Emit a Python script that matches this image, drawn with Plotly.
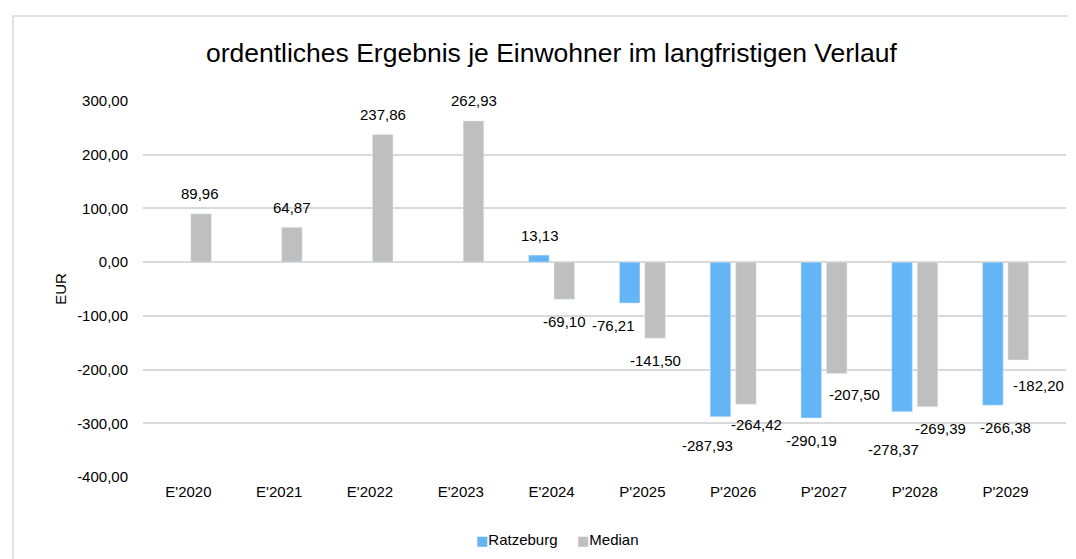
import plotly.graph_objects as go

categories = ["E'2020", "E'2021", "E'2022", "E'2023", "E'2024",
              "P'2025", "P'2026", "P'2027", "P'2028", "P'2029"]
ratzeburg = [None, None, None, None, 13.13, -76.21, -287.93, -290.19, -278.37, -266.38]
median = [89.96, 64.87, 237.86, 262.93, -69.10, -141.50, -264.42, -207.50, -269.39, -182.20]
y_ticks = [300, 200, 100, 0, -100, -200, -300, -400]
series_names = ["Ratzeburg", "Median"]

# label placement tweaks (pixels): horizontal shift, distance from bar end
r_dx = [0, 0, 0, 0, 1, -16, -13, 0, -8, 13]
r_dd = [20, 20, 20, 20, 20, 22, 29, 22, 38, 22]
m_dx = [-1, 0, 0, 0, 0, 0, 10, 18, 13, 20]
m_dd = [20, 20, 20, 20, 22, 22, 20, 21, 22, 25]

BLUE = "#64B5F6"
GRAY = "#BFBFBF"
FONT = "Liberation Sans, Arial, sans-serif"


def de(v):
    return f"{v:.2f}".replace(".", ",")


fig = go.Figure()
fig.add_trace(go.Bar(name=series_names[0], x=categories, y=ratzeburg,
                     marker_color=BLUE, showlegend=False))
fig.add_trace(go.Bar(name=series_names[1], x=categories, y=median,
                     marker_color=GRAY, showlegend=False))

W, H = 1076, 559
ML, MR, MT, MB = 135, 18, 93, 90
plot_w = W - ML - MR
plot_h = H - MT - MB
bargap, groupgap = 0.44, 0.19
slot = plot_w / len(categories) * (1 - bargap) / 2
offset = slot / 2

annotations = []
for vals, dxs, dds, sign in [(ratzeburg, r_dx, r_dd, -1), (median, m_dx, m_dd, 1)]:
    for c, v, dx, dd in zip(categories, vals, dxs, dds):
        if v is None:
            continue
        annotations.append(dict(
            x=c, y=v, xref="x", yref="y", text=de(v), showarrow=False,
            xanchor="center", yanchor="middle",
            xshift=sign * offset + dx, yshift=dd if v >= 0 else -dd,
            font=dict(family=FONT, size=15, color="#000000"),
        ))

# compact Excel-style legend
for name, color, px in [(series_names[0], BLUE, 466), (series_names[1], GRAY, 567)]:
    annotations.append(dict(
        x=(px - ML) / plot_w, y=(H - MB - 531) / plot_h, xref="paper", yref="paper",
        xanchor="left", yanchor="middle", showarrow=False,
        text=f'<span style="color:{color};font-family:DejaVu Sans;font-size:13px">■</span>{name}',
        font=dict(family=FONT, size=15, color="#000000"),
    ))

fig.update_layout(
    width=W, height=H,
    margin=dict(l=ML, r=MR, t=MT, b=MB),
    paper_bgcolor="white", plot_bgcolor="white",
    barmode="group", bargap=bargap, bargroupgap=groupgap,
    font=dict(family=FONT, size=15, color="#000000"),
    title=dict(text="ordentliches Ergebnis je Einwohner im langfristigen Verlauf",
               x=0.505, xref="container", xanchor="center",
               y=1 - 45 / H, yref="container", yanchor="middle",
               font=dict(family=FONT, size=26.5, color="#000000")),
    showlegend=False,
    annotations=annotations,
    shapes=[dict(type="rect", xref="paper", yref="paper",
                 x0=(5 - ML) / plot_w, x1=(1085 - ML) / plot_w,
                 y0=-(568 - (H - MB)) / plot_h, y1=((H - MB) - 8) / plot_h,
                 line=dict(color="#D9D9D9", width=1.5), layer="below")],
)
fig.update_xaxes(showline=False, ticks="", showgrid=False, ticklabelstandoff=4,
                 tickfont=dict(family=FONT, size=15))
fig.update_yaxes(range=[-400, 300], tickvals=y_ticks, ticktext=[de(t) for t in y_ticks],
                 showgrid=True, gridcolor="#D9D9D9", gridwidth=1.5,
                 zeroline=True, zerolinecolor="#D9D9D9", zerolinewidth=1.5,
                 showline=False, ticks="", ticklabelstandoff=14,
                 title=dict(text="EUR", standoff=6, font=dict(family=FONT, size=15)),
                 tickfont=dict(family=FONT, size=15))

fig.write_html("out.html")
